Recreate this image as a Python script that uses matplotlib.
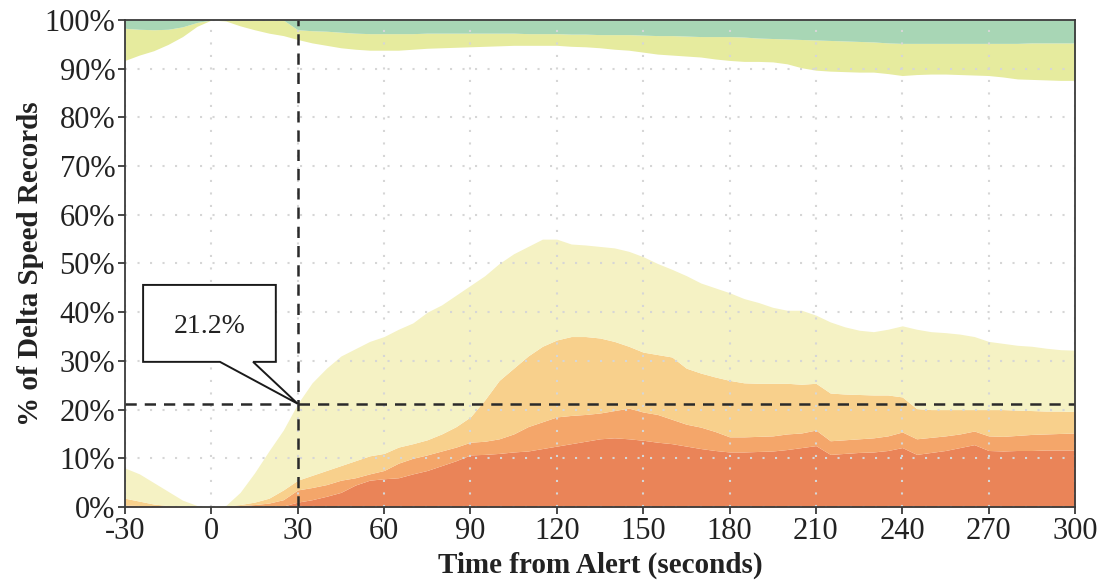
import numpy as np
import matplotlib
matplotlib.use("Agg")
import matplotlib.pyplot as plt
from matplotlib.patches import Polygon

plt.rcParams["font.family"] = ["Liberation Serif", "DejaVu Serif"]
plt.rcParams["axes.unicode_minus"] = False

# Time from alert (seconds), sampled every 5 s
time_s = list(range(-30, 301, 5))

# Cumulative share of delta-speed records (%) at the upper edge of each band, bottom to top
top_red = [0, 0, 0, 0, 0, 0, 0, 0, 0, 0, 0, 0.2, 1.0,
           1.5, 2.2, 3.0, 4.5, 5.5, 5.8, 6.0, 6.8, 7.5, 8.5, 9.5, 10.7,
           10.8, 11.0, 11.3, 11.5, 12.0, 12.5, 13.0, 13.5, 14.0, 14.2, 14.0, 13.7,
           13.3, 13.0, 12.5, 12.0, 11.6, 11.3, 11.3, 11.4, 11.5, 11.8, 12.2, 12.6,
           10.8, 11.0, 11.2, 11.3, 11.6, 12.2, 10.8, 11.2, 11.6, 12.2, 12.8, 11.6,
           11.5, 11.6, 11.6, 11.7, 11.7, 11.7]
top_orange = [0.4, 0.3, 0.3, 0.2, 0.1, 0, 0, 0, 0.3, 0.5, 0.8, 1.5, 3.5,
              4.0, 4.6, 5.5, 6.0, 6.8, 7.5, 9.0, 10.0, 10.7, 11.5, 12.3, 13.3,
              13.5, 14.0, 15.0, 16.5, 17.5, 18.5, 18.8, 19.0, 19.3, 19.8, 20.3, 19.5,
              19.0, 18.0, 17.0, 16.4, 15.5, 14.4, 14.4, 14.5, 14.6, 15.0, 15.2, 15.8,
              13.6, 13.8, 14.0, 14.2, 14.6, 15.4, 14.0, 14.3, 14.6, 15.0, 15.6, 14.6,
              14.5, 14.7, 14.9, 15.0, 15.1, 15.2]
top_amber = [1.8, 1.2, 0.6, 0.3, 0.1, 0, 0, 0.2, 0.5, 1.0, 1.8, 3.5, 5.5,
             6.5, 7.5, 8.5, 9.5, 10.5, 11.0, 12.3, 13.0, 13.8, 15.0, 16.5, 18.5,
             22.0, 26.0, 28.5, 31.0, 33.0, 34.3, 35.0, 35.0, 34.7, 34.0, 33.0, 31.8,
             31.3, 30.8, 28.5, 27.5, 26.7, 26.0, 25.5, 25.4, 25.4, 25.4, 25.2, 25.4,
             23.4, 23.2, 23.1, 23.0, 23.0, 22.6, 20.2, 20.0, 20.0, 20.0, 20.0, 20.0,
             20.0, 19.9, 19.8, 19.7, 19.7, 19.6]
top_cream = [8.0, 6.8, 5.0, 3.2, 1.4, 0.3, 0, 0.3, 3.0, 7.0, 11.5, 15.8, 21.2,
             25.5, 28.5, 31.0, 32.5, 34.0, 35.0, 36.5, 37.8, 40.0, 41.5, 43.5, 45.5,
             47.5, 50.0, 52.0, 53.5, 55.0, 55.0, 54.0, 53.8, 53.5, 53.2, 52.5, 51.4,
             50.0, 48.8, 47.5, 46.0, 45.0, 44.0, 42.8, 42.0, 41.0, 40.4, 40.4, 39.4,
             38.0, 37.0, 36.3, 36.0, 36.5, 37.2, 36.5, 36.0, 35.8, 35.5, 35.0, 34.0,
             33.6, 33.2, 33.0, 32.6, 32.3, 32.2]
base_lime = [91.7, 92.8, 93.7, 95.0, 96.6, 98.7, 100, 99.8, 98.8, 98.0, 97.3, 96.8, 96.0,
             95.3, 94.8, 94.3, 94.0, 93.8, 93.8, 93.8, 94.0, 94.2, 94.3, 94.4, 94.5,
             94.6, 94.7, 94.8, 94.8, 94.8, 94.8, 94.6, 94.5, 94.3, 94.0, 93.8, 93.4,
             93.0, 92.8, 92.6, 92.4, 92.0, 91.7, 91.5, 91.5, 91.4, 91.0, 90.2, 89.7,
             89.5, 89.4, 89.3, 89.3, 89.0, 88.6, 88.8, 88.9, 88.9, 88.8, 88.7, 88.6,
             88.3, 87.9, 87.8, 87.7, 87.6, 87.6]
base_green = [98.3, 98.1, 98.0, 98.1, 98.6, 99.5, 100, 100, 100, 100, 100, 100, 98.0,
              97.8, 97.7, 97.5, 97.3, 97.2, 97.2, 97.2, 97.2, 97.3, 97.3, 97.3, 97.3,
              97.3, 97.3, 97.3, 97.2, 97.2, 97.2, 97.1, 97.1, 97.0, 97.0, 97.0, 96.9,
              96.8, 96.8, 96.7, 96.6, 96.6, 96.6, 96.5, 96.3, 96.2, 96.1, 96.0, 95.9,
              95.8, 95.7, 95.6, 95.5, 95.3, 95.2, 95.2, 95.2, 95.2, 95.2, 95.2, 95.2,
              95.2, 95.2, 95.3, 95.3, 95.3, 95.3]

# Highlighted reading: share of records at 30 s after the alert
alert_t = 30
alert_share = 21.2

x_ticks = list(range(-30, 301, 30))
y_ticks = list(range(0, 101, 10))

t = np.array(time_s, dtype=float)
zero = np.zeros_like(t)
full = np.full_like(t, 100.0)
bands = [
    (zero, np.array(top_red), "#EA8458"),
    (np.array(top_red), np.array(top_orange), "#F4A66A"),
    (np.array(top_orange), np.array(top_amber), "#F8D08C"),
    (np.array(top_amber), np.array(top_cream), "#F5F2C4"),
    (np.array(base_lime), np.array(base_green), "#E6EB9E"),
    (np.array(base_green), full, "#A8D6B5"),
]

fig = plt.figure(figsize=(11.03, 5.8), dpi=100)
ax = fig.add_axes([0.1133, 0.1259, 0.8613, 0.8396])

for lo, hi, col in bands:
    ax.fill_between(t, lo, hi, color=col, linewidth=0, zorder=1)

ax.set_xlim(-30, 300)
ax.set_ylim(0, 100)
ax.set_xticks(x_ticks)
ax.set_xticklabels([str(v) for v in x_ticks])
ax.set_yticks(y_ticks)
ax.set_yticklabels([f"{v}%" for v in y_ticks])

ax.grid(True, color="#d6d6d6", linestyle=(0, (1, 5)), linewidth=1.5, zorder=2)
ax.set_axisbelow(False)

for sp in ax.spines.values():
    sp.set_color("#3a3a3a")
    sp.set_linewidth(1.3)
    sp.set_zorder(6)
ax.tick_params(axis="both", direction="out", length=5, width=1.3,
               color="#3a3a3a", labelsize=22, labelcolor="#222222", pad=2)

# Reference lines through the highlighted reading
ax.axvline(alert_t, color="#2a2a2a", linestyle=(0, (4.5, 3.2)), linewidth=1.8, zorder=4)
ax.axhline(alert_share, color="#2a2a2a", linestyle=(0, (4.5, 3.2)), linewidth=1.8, zorder=4)

# Speech-bubble callout pointing at the reading
bx0, bx1, by0, by1 = -23.7, 22.4, 29.8, 45.6
px0, px1 = 3.0, 14.5
bubble = Polygon([(bx0, by1), (bx1, by1), (bx1, by0), (px1, by0),
                  (alert_t, alert_share), (px0, by0), (bx0, by0)],
                 closed=True, facecolor="white", edgecolor="#1a1a1a",
                 linewidth=1.4, zorder=5)
ax.add_patch(bubble)
ax.text((bx0 + bx1) / 2, (by0 + by1) / 2 - 0.6, f"{alert_share}%",
        ha="center", va="center", fontsize=20, color="#222222", zorder=6)

ax.set_xlabel("Time from Alert (seconds)", fontsize=21, fontweight="bold",
              color="#222222", labelpad=4)
ax.set_ylabel("% of Delta Speed Records", fontsize=21, fontweight="bold",
              color="#222222", labelpad=0)

fig.savefig("out.png", dpi=100, facecolor="white")
